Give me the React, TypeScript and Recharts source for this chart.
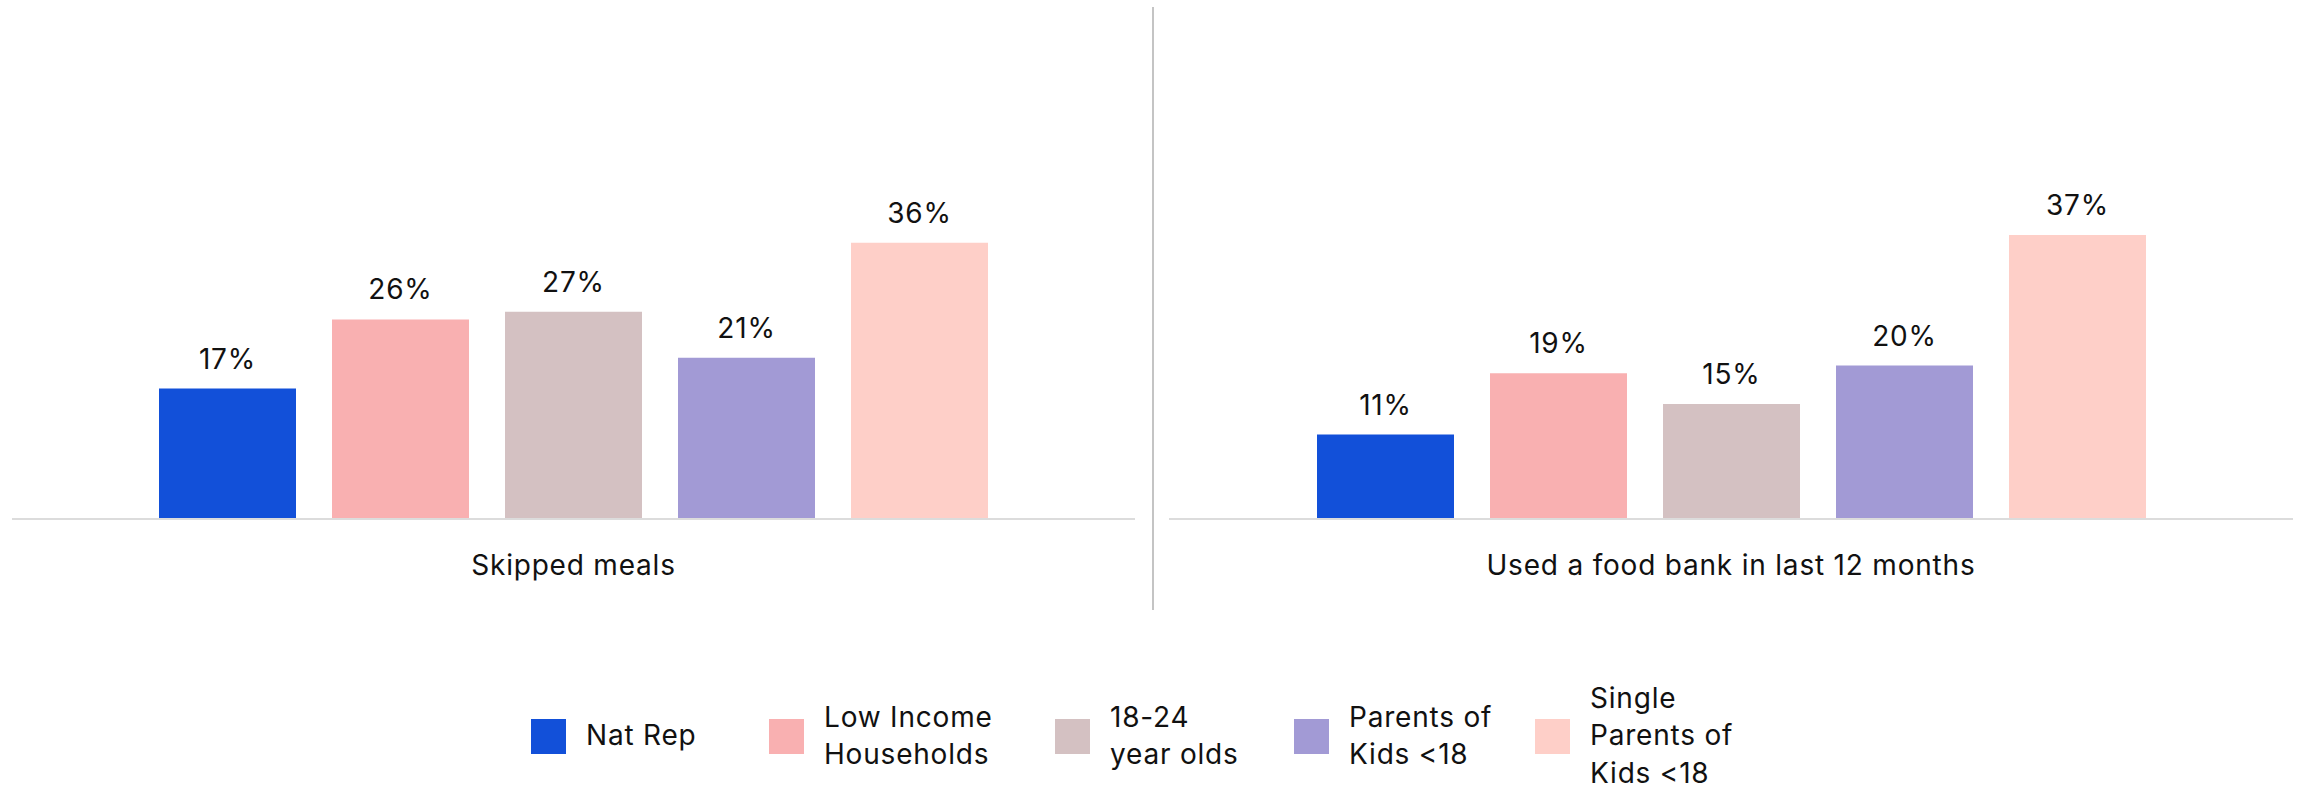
import { Bar, BarChart, XAxis, YAxis, LabelList } from 'recharts';

// groups shown in both panels (same order as legend)
const seriesKeys = ['natRep', 'lowIncome', 'youngAdults', 'parents', 'singleParents'];
const seriesNames = ['Nat Rep', 'Low Income Households', '18-24 year olds', 'Parents of Kids <18', 'Single Parents of Kids <18'];
const legendLines = [['Nat Rep'], ['Low Income', 'Households'], ['18-24', 'year olds'], ['Parents of', 'Kids <18'], ['Single', 'Parents of', 'Kids <18']];
const seriesColors = ['#1250d9', '#f9b0b1', '#d4c1c2', '#a29ad5', '#fecfc8'];

const skippedMeals = [17, 26, 27, 21, 36];
const foodBank = [11, 19, 15, 20, 37];

const panels = [
    { title: 'Skipped meals', values: skippedMeals },
    { title: 'Used a food bank in last 12 months', values: foodBank },
];

const FONT = 'Inter, "Noto Sans", sans-serif';
const textStyle = { fill: '#111', fontSize: 28, fontFamily: FONT, letterSpacing: 0.8 };

// legend column widths (square + text + spacing)
const legendWidths = [238, 286, 239, 241, 200];

const toRow = (title: string, values: number[]) => {
    const row: Record<string, string | number> = { name: title };
    seriesKeys.forEach((k, i) => {
        row[k] = values[i];
    });
    return [row];
};

const Panel = ({ title, values, margin }: { title: string; values: number[]; margin: any }) => (
    <BarChart width={1150} height={620} data={toRow(title, values)} margin={margin} barSize={137} barGap={36}>
        <XAxis
            dataKey="name"
            axisLine={{ stroke: '#dcdcdc', strokeWidth: 2 }}
            tickLine={false}
            tickMargin={30}
            height={80}
            tick={textStyle}
        />
        <YAxis hide domain={[0, 40]} />
        {seriesKeys.map((k, i) => (
            <Bar key={k} dataKey={k} name={seriesNames[i]} fill={seriesColors[i]} isAnimationActive={false}>
                <LabelList
                    dataKey={k}
                    position="top"
                    offset={20}
                    formatter={(v: any) => `${v}%`}
                    style={textStyle}
                />
            </Bar>
        ))}
    </BarChart>
);

const App = () => {
    return (
        <div style={{ position: 'absolute', left: 0, top: 0, width: 2305, height: 788, background: '#fff', fontFamily: FONT }}>
            <div style={{ position: 'absolute', left: 0, top: 0 }}>
                <Panel title={panels[0].title} values={panels[0].values} margin={{ top: 212, right: 15, bottom: 21, left: 12 }} />
            </div>
            <div style={{ position: 'absolute', left: 1152, top: 7, width: 2, height: 603, background: '#c4c4c4' }} />
            <div style={{ position: 'absolute', left: 1155, top: 0 }}>
                <Panel title={panels[1].title} values={panels[1].values} margin={{ top: 212, right: 12, bottom: 21, left: 14 }} />
            </div>
            <div style={{ position: 'absolute', left: 531, top: 680, display: 'flex', alignItems: 'center', height: 112 }}>
                {legendLines.map((lines, i) => (
                    <div key={i} style={{ display: 'flex', alignItems: 'center', width: legendWidths[i], flex: 'none' }}>
                        <div style={{ width: 35, height: 35, background: seriesColors[i], marginRight: 20, flex: 'none' }} />
                        <div style={{ fontSize: 28, letterSpacing: 0.8, lineHeight: '37.5px', color: '#111' }}>
                            {lines.map((l, j) => (
                                <div key={j} style={{ whiteSpace: 'nowrap' }}>{l}</div>
                            ))}
                        </div>
                    </div>
                ))}
            </div>
        </div>
    );
};

export default App;
